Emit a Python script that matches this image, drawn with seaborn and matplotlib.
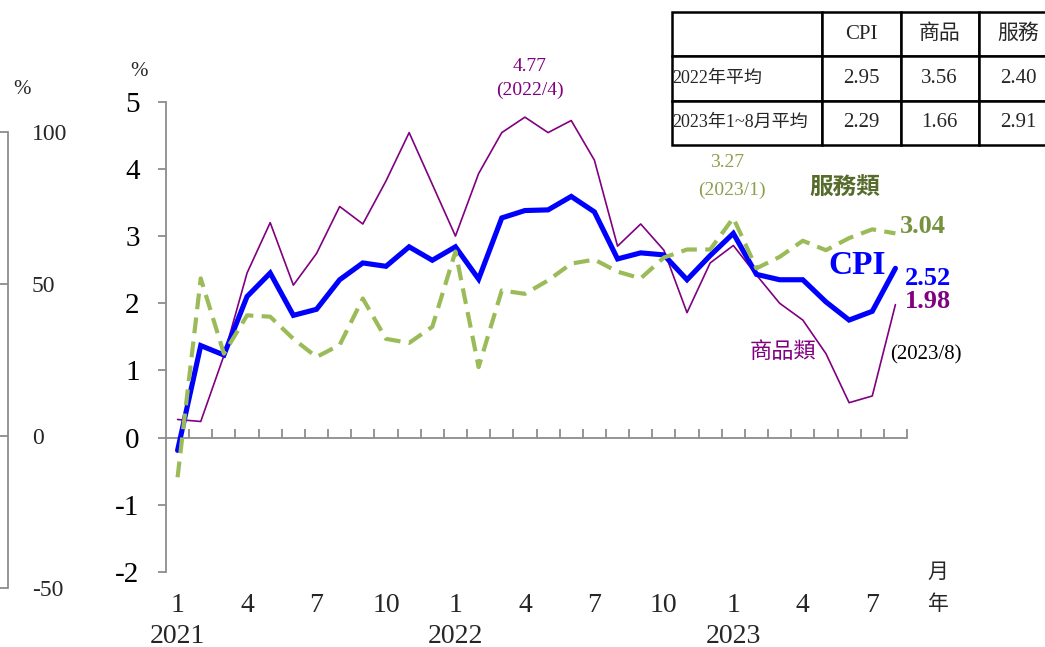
import matplotlib
matplotlib.use("Agg")
import matplotlib.pyplot as plt
import seaborn as sns
import numpy as np
import pandas as pd

# Monthly year-over-year change (%), 2021/1 - 2023/8
month_labels = ["1", "4", "7", "10", "1", "4", "7", "10", "1", "4", "7"]
year_labels = ["2021", "2022", "2023"]
cpi = [-0.19, 1.37, 1.23, 2.10, 2.45, 1.82, 1.91, 2.35, 2.60, 2.55, 2.84, 2.64,
       2.84, 2.36, 3.27, 3.38, 3.39, 3.59, 3.36, 2.66, 2.75, 2.72, 2.35, 2.71,
       3.04, 2.43, 2.35, 2.35, 2.02, 1.75, 1.88, 2.52]
goods = [0.27, 0.24, 1.22, 2.45, 3.20, 2.27, 2.74, 3.44, 3.18, 3.82, 4.54, 3.77,
         3.00, 3.93, 4.54, 4.77, 4.54, 4.72, 4.13, 2.85, 3.18, 2.79, 1.86, 2.60,
         2.86, 2.42, 2.00, 1.75, 1.25, 0.52, 0.62, 1.98]
services = [-0.59, 2.37, 1.25, 1.82, 1.80, 1.47, 1.20, 1.38, 2.07, 1.47, 1.41, 1.65,
            2.77, 1.05, 2.19, 2.14, 2.34, 2.59, 2.65, 2.47, 2.37, 2.68, 2.80, 2.80,
            3.27, 2.52, 2.69, 2.93, 2.79, 2.97, 3.10, 3.04]
left_scale_ticks = [100, 50, 0, -50]

table_header = ["", "CPI", "商品", "服務"]
table_rows = ["2022年平均", "2023年1~8月平均"]
table_cpi = ["2.95", "2.29"]
table_goods = ["3.56", "1.66"]
table_services = ["2.40", "2.91"]

sns.set_theme(style="white")
plt.rcParams["font.family"] = ["Liberation Serif", "Noto Sans CJK TC", "DejaVu Sans"]
plt.rcParams["axes.unicode_minus"] = False

W, H = 1045, 647
fig = plt.figure(figsize=(W / 100, H / 100), dpi=100)

def fx(px):
    return px / W

def fy(py):
    return 1 - py / H

GREY = "#8c8c8c"
BLUE = "#0000ff"
PURPLE = "#800080"
GREEN = "#9bbb59"

# main axes
x0, x1, ytop, ybot = 166, 907, 101.7, 572
ax = fig.add_axes([fx(x0), fy(ybot), fx(x1) - fx(x0), fy(ytop) - fy(ybot)])
ax.set_facecolor("none")

n = len(cpi)
df = pd.DataFrame({"idx": np.arange(n), "cpi": cpi, "goods": goods, "services": services})

sns.lineplot(data=df, x="idx", y="goods", ax=ax, color=PURPLE, lw=1.2, zorder=3)
sns.lineplot(data=df, x="idx", y="cpi", ax=ax, color=BLUE, lw=3.7, zorder=4,
             solid_joinstyle="miter")
sns.lineplot(data=df, x="idx", y="services", ax=ax, color=GREEN, lw=3.0, zorder=5)
ax.lines[-1].set_dashes([3.8, 2.0])
ax.lines[-1].set_dash_capstyle("butt")

ax.set_xlim(-0.5, n - 0.5)
ax.set_ylim(-2, 5)
ax.set_xlabel("")
ax.set_ylabel("")

for s in ["top", "right"]:
    ax.spines[s].set_visible(False)
ax.spines["left"].set_color(GREY)
ax.spines["left"].set_linewidth(1.3)
ax.spines["bottom"].set_color(GREY)
ax.spines["bottom"].set_linewidth(1.3)
ax.spines["bottom"].set_position(("data", 0))

ax.set_yticks(range(-2, 6))
ax.set_yticklabels([str(v) for v in range(-2, 6)])
ax.tick_params(axis="y", direction="out", length=6, width=1.3, color=GREY,
               pad=13, labelsize=21, left=True, labelcolor="black")
ax.set_xticks(np.arange(n) + 0.5)
ax.set_xticklabels([])
ax.tick_params(axis="x", direction="in", length=6.5, width=1.3, color=GREY, bottom=True)

for i, lab in enumerate(month_labels):
    ax.text(i * 3, -2.5, lab, ha="center", va="center", fontsize=20, clip_on=False)
for i, lab in enumerate(year_labels):
    ax.text(i * 12, -2.96, lab, ha="center", va="center", fontsize=20, clip_on=False)
ax.text(32.85, -2.02, "月", ha="center", va="center", fontsize=15, clip_on=False)
ax.text(32.85, -2.5, "年", ha="center", va="center", fontsize=15, clip_on=False)
fig.text(fx(139), fy(72), "%", ha="center", va="center", fontsize=15)

# annotations
ax.text(15.22, 5.53, "4.77", ha="center", va="center", fontsize=14, color=PURPLE, clip_on=False)
ax.text(15.22, 5.17, "(2022/4)", ha="center", va="center", fontsize=14, color=PURPLE, clip_on=False)
ax.text(23.75, 4.09, "3.27", ha="center", va="center", fontsize=14, color="#8aa04e", clip_on=False)
ax.text(23.95, 3.68, "(2023/1)", ha="center", va="center", fontsize=14, color="#8aa04e", clip_on=False)
ax.text(28.82, 3.71, "服務類", ha="center", va="center", fontsize=17, color="#566b2c",
        fontweight="bold", clip_on=False)
ax.text(31.2, 3.14, "3.04", ha="left", va="center", fontsize=19, color="#76923c",
        fontweight="bold", clip_on=False)
ax.text(29.34, 2.56, "CPI", ha="center", va="center", fontsize=24, color=BLUE,
        fontweight="bold", clip_on=False)
ax.text(31.4, 2.37, "2.52", ha="left", va="center", fontsize=19, color=BLUE,
        fontweight="bold", clip_on=False)
ax.text(31.4, 2.02, "1.98", ha="left", va="center", fontsize=19, color=PURPLE,
        fontweight="bold", clip_on=False)
ax.text(26.14, 1.27, "商品類", ha="center", va="center", fontsize=16, color=PURPLE, clip_on=False)
ax.text(32.3, 1.23, "(2023/8)", ha="center", va="center", fontsize=15, color="black", clip_on=False)

# secondary scale on the far left
ax2 = fig.add_axes([fx(8), fy(588), fx(14), fy(131.7) - fy(588)])
ax2.set_facecolor("none")
ax2.set_ylim(-50, 100)
ax2.set_xticks([])
for s in ["top", "right", "bottom"]:
    ax2.spines[s].set_visible(False)
ax2.spines["left"].set_color(GREY)
ax2.spines["left"].set_linewidth(1.3)
ax2.set_yticks(left_scale_ticks)
ax2.set_yticklabels([str(v) for v in left_scale_ticks])
ax2.tick_params(axis="y", direction="out", length=6, width=1.3, color=GREY,
                left=True, right=False, labelleft=False, labelright=True,
                labelsize=17, pad=1)
fig.text(fx(22), fy(90), "%", ha="center", va="center", fontsize=15)

# summary table
tx0, tx1, ty0, ty1 = 671.5, 1058, 12, 145
tax = fig.add_axes([fx(tx0), fy(ty1), fx(tx1) - fx(tx0), fy(ty0) - fy(ty1)])
tax.axis("off")
cells = [[table_rows[i], table_cpi[i], table_goods[i], table_services[i]] for i in range(2)]
col_w = np.array([150, 79, 78, 79.5])
tab = tax.table(cellText=cells, colLabels=table_header, cellLoc="center",
                colWidths=list(col_w / col_w.sum()), bbox=[0, 0, 1, 1])
tab.auto_set_font_size(False)
for (r, c), cell in tab.get_celld().items():
    cell.set_edgecolor("black")
    cell.set_linewidth(1.8)
    cell.set_facecolor("white")
    t = cell.get_text()
    t.set_fontsize(15)
    t.set_fontfamily(["Liberation Serif", "Noto Sans CJK TC"])
    if c == 0:
        cell._loc = "left"
        cell.PAD = 0.005
        t.set_ha("left")
        t.set_fontsize(13)

fig.savefig("out.png", dpi=100)
